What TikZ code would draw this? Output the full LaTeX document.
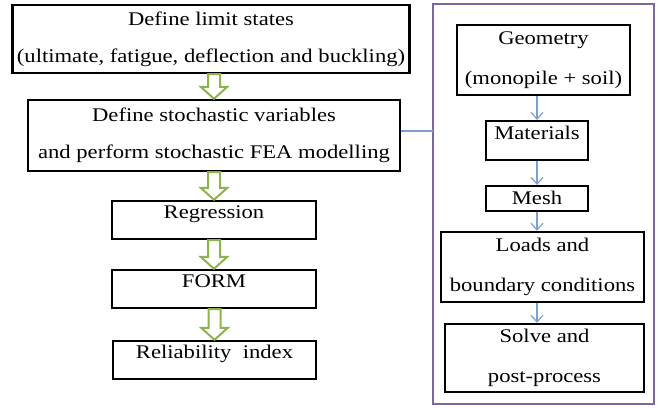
\documentclass[tikz,border=0pt]{standalone}
\usepackage{fontspec}
\setmainfont{Liberation Serif}[FakeStretch=1.17]
\usetikzlibrary{arrows.meta,calc,positioning}
\definecolor{leafgreen}{HTML}{8DB34F}
\definecolor{paleblue}{HTML}{7BA0D0}
\definecolor{framepurple}{HTML}{8064A2}

% hollow block arrow from the bottom of #1 down to the top of #2
\newcommand{\hollowarrow}[2]{%
  \draw[hollow] let \p1=(#1.south), \p2=(#2.north) in
    (\x2-4.5pt,\y1) -- (\x2+4.5pt,\y1) -- (\x2+4.5pt,\y2+9pt) -- (\x2+10pt,\y2+9pt)
    -- (\x2,\y2) -- (\x2-10pt,\y2+9pt) -- (\x2-4.5pt,\y2+9pt) -- cycle;}

\begin{document}
\begin{tikzpicture}
    [x=0.75pt,y=-0.75pt,
      stepbox/.style={draw,line width=1.8pt,rectangle,align=center,
        font=\fontsize{14.5}{27.5}\selectfont},
      widerows/.style={stepbox,font=\fontsize{14.5}{30}\selectfont},
      onerow/.style={stepbox,text height=10.5pt,text depth=#1,inner ysep=3pt},
      hollow/.style={draw=leafgreen,fill=white,line width=1.5pt,line join=miter},
      thin/.style={draw=paleblue,line width=0.9pt},
      thinarrow/.style={thin,-{Straight Barb[length=5pt,width=9pt]}}
    ]
    \useasboundingbox (0,0) rectangle (665,409);

    % left column
    \node [stepbox,minimum width=295.5pt,minimum height=51pt] (limits) at (211,39)
      {Define limit states\\(ultimate, fatigue, deflection and buckling)};
    \node [stepbox,minimum width=279pt,minimum height=53.25pt] (stochastic) at (214,135.5)
      {Define stochastic variables\\and perform stochastic FEA modelling};
    \node [onerow=12pt,minimum width=153pt] (regression) at (214,220) {Regression};
    \node [onerow=12pt,minimum width=153pt] (form) at (214,289) {FORM};
    \node [onerow=12pt,minimum width=152pt] (reliability) at (214.5,360) {Reliability\ \ index};

    \hollowarrow{limits}{stochastic}
    \hollowarrow{stochastic}{regression}
    \hollowarrow{regression}{form}
    \hollowarrow{form}{reliability}

    % FEA frame
    \draw [framepurple,line width=2pt] (433,4) rectangle (654,404);
    \coordinate (frameleft) at (433,131);
    \draw [thin] (stochastic.east |- frameleft) -- (frameleft);

    \node [widerows,minimum width=129.75pt,minimum height=52.5pt] (geometry) at (543.5,60)
      {Geometry\\(monopile + soil)};
    \node [onerow=12.5pt,minimum width=76.5pt] (materials) at (537,140.5) {Materials};
    \node [onerow=2pt,minimum width=76.5pt] (mesh) at (537,198.5) {Mesh};
    \node [widerows,minimum width=152.25pt,minimum height=52.5pt] (loads) at (542.5,267)
      {Loads and\\boundary conditions};
    \node [widerows,minimum width=149.25pt,minimum height=51pt] (solve) at (544.5,358)
      {Solve and\\post-process};

    \draw [thinarrow] (geometry.south -| materials.north) -- (materials.north);
    \draw [thinarrow] (materials.south) -- (mesh.north);
    \draw [thinarrow] (mesh.south) -- (mesh.south |- loads.north);
    \draw [thinarrow] (loads.south -| mesh.south) -- (mesh.south |- solve.north);
\end{tikzpicture}
\end{document}
